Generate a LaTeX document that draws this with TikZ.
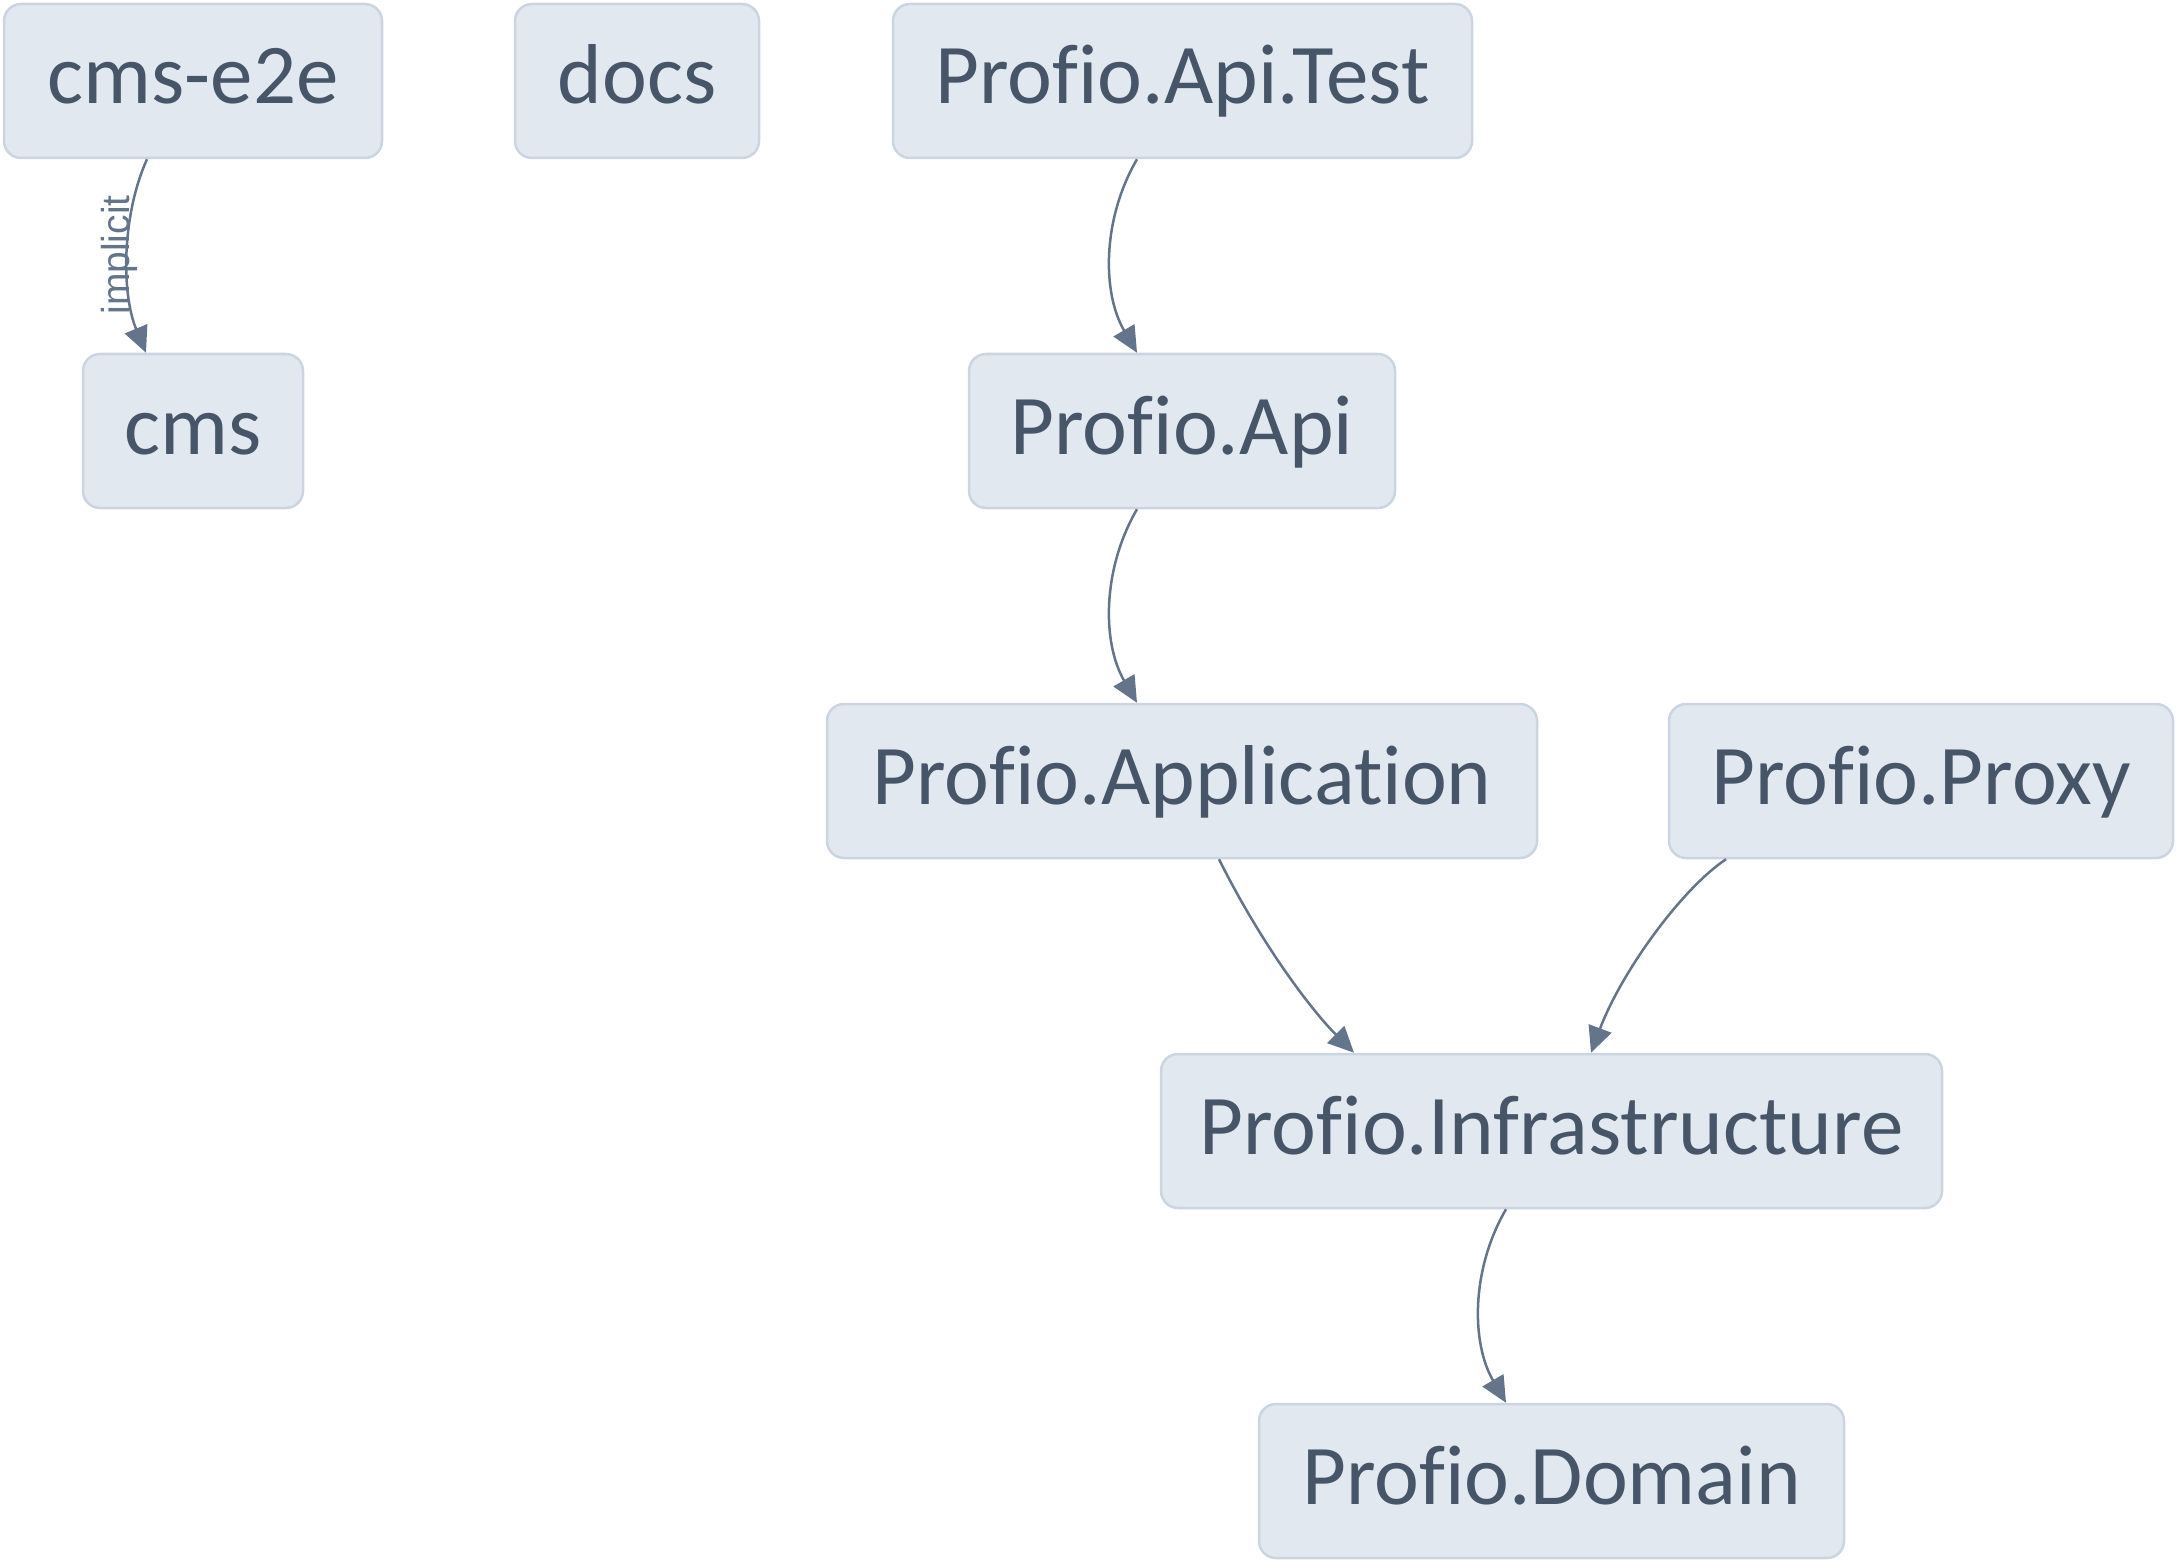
\documentclass[tikz,border=0pt]{standalone}
\usepackage{fontspec}
\setmainfont{Carlito}[Ligatures=NoCommon]
\newfontfamily\labelfont{Liberation Sans}
\usetikzlibrary{arrows.meta}
\definecolor{boxfill}{HTML}{E2E8F0}
\definecolor{boxline}{HTML}{CBD5E1}
\definecolor{boxtext}{HTML}{475569}
\definecolor{edgeline}{HTML}{64748B}
\tikzstyle{pkg}=[draw=boxline, line width=2.5pt, fill=boxfill, rounded corners=17pt, text=boxtext, font=\fontsize{85}{100}\selectfont, minimum height=154pt, inner sep=0pt, text height=60pt, text depth=14pt]
\tikzstyle{line}=[draw=edgeline, line width=2.5pt, -{Triangle[length=26pt,width=24pt]}]
\tikzstyle{edgelabel}=[text=edgeline, font=\labelfont\fontsize{39}{39}\selectfont, inner sep=0pt, rotate=90]

\begin{document}
\begin{tikzpicture}[x=1pt, y=-1pt]
    \useasboundingbox (0,0) rectangle (2177,1562);
    \node[pkg, minimum width=378pt] (e2e) at (193,81) {cms-e2e};
    \node[pkg, minimum width=244pt] (docs) at (637,81) {docs};
    \node[pkg, minimum width=579pt] (apitest) at (1182.5,81) {Profio.Api.Test};
    \node[pkg, minimum width=220pt] (cms) at (193,431) {cms};
    \node[pkg, minimum width=426pt] (api) at (1182,431) {Profio.Api};
    \node[pkg, minimum width=710pt] (app) at (1182,781) {Profio.Application};
    \node[pkg, minimum width=504pt] (proxy) at (1921,781) {Profio.Proxy};
    \node[pkg, minimum width=781pt] (infra) at (1551.5,1131) {Profio.Infrastructure};
    \node[pkg, minimum width=585pt] (domain) at (1551.5,1481) {Profio.Domain};
    \path[line] ([xshift=-46pt]e2e.south) .. controls +(-25,55) and +(-25,-60) .. ([xshift=-47pt]cms.north);
    \node[edgelabel] (implicit) at (119,255) {implicit};
    \path[line] ([xshift=-45.5pt]apitest.south) .. controls +(-35,60) and +(-35,-60) .. ([xshift=-45pt]api.north);
    \path[line] ([xshift=-45pt]api.south) .. controls +(-35,60) and +(-35,-60) .. ([xshift=-45pt]app.north);
    \path[line] ([xshift=37pt]app.south) .. controls +(45,90) and +(-40,-40) .. ([xshift=-197.5pt]infra.north);
    \path[line] ([xshift=-195pt]proxy.south) .. controls +(-45,30) and +(30,-80) .. ([xshift=39.5pt]infra.north);
    \path[line] ([xshift=-45.5pt]infra.south) .. controls +(-35,60) and +(-35,-60) .. ([xshift=-45.5pt]domain.north);
\end{tikzpicture}
\end{document}
